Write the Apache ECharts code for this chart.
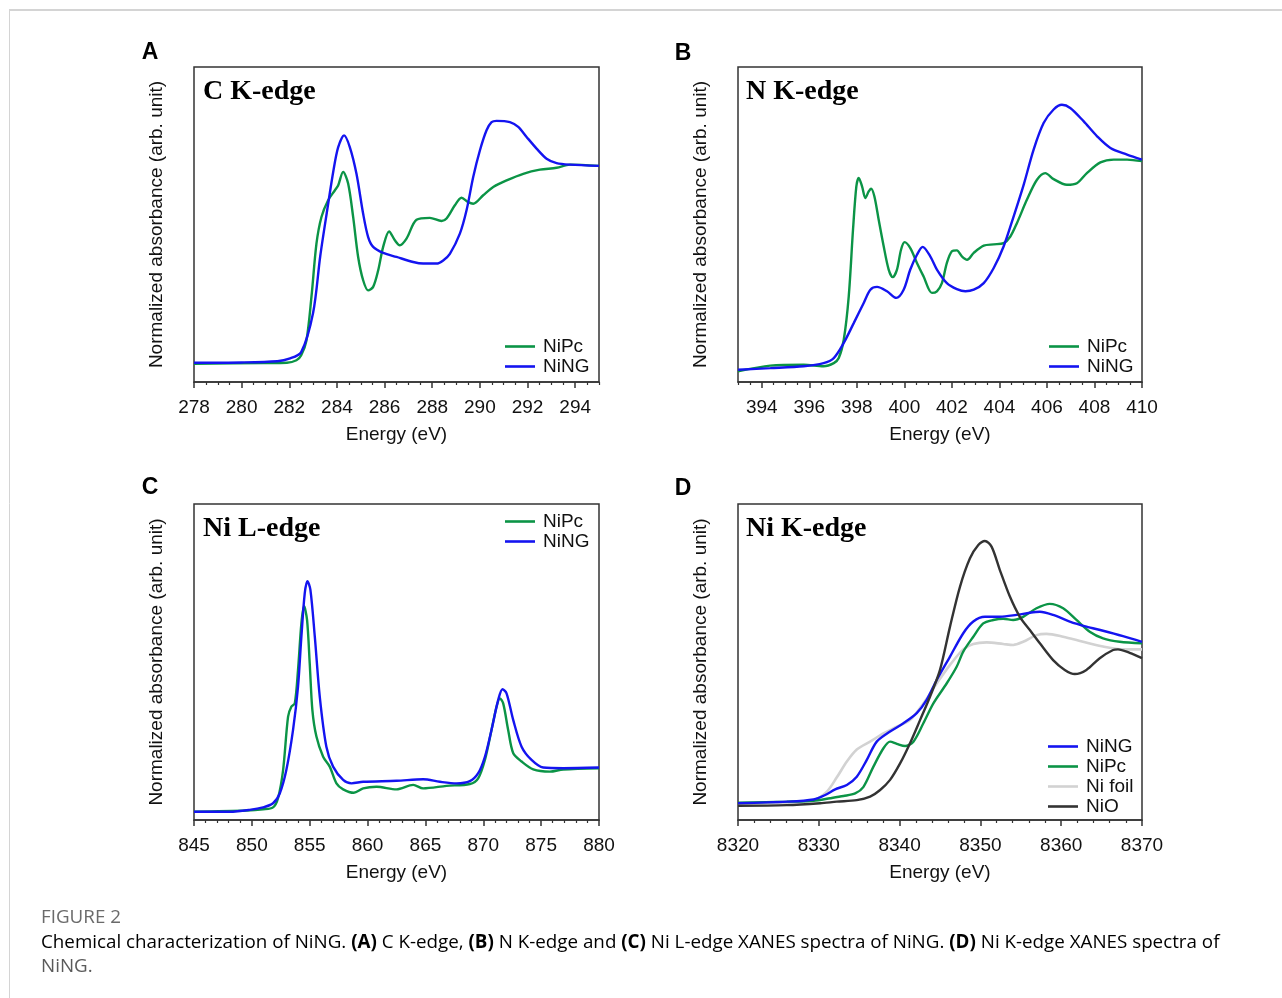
<!DOCTYPE html>
<html>
<head>
<meta charset="utf-8">
<title>Figure 2 - XANES of NiNG</title>
<script src="https://cdn.jsdelivr.net/npm/echarts@6/dist/echarts.min.js"></script>
<style>
  html, body { margin: 0; padding: 0; background: #fff; }
  #chart { width: 1282px; height: 998px; }
</style>
</head>
<body>
<div id="chart"></div>
<script>
// x tick labels of each panel
const ticksA = [278, 280, 282, 284, 286, 288, 290, 292, 294];
const ticksB = [394, 396, 398, 400, 402, 404, 406, 408, 410];
const ticksC = [845, 850, 855, 860, 865, 870, 875, 880];
const ticksD = [8320, 8330, 8340, 8350, 8360, 8370];

// (A) C K-edge  [energy eV, normalized absorbance]
const cNiPc = [[278,5.8],[280.9,6.0],[281.9,6.1],[282.3,6.9],[282.5,8.5],[282.72,13.2],[282.93,27.0],[283.14,43.9],[283.35,52.4],[283.63,57.7],[283.91,60.8],[284.05,62.4],[284.26,66.7],[284.47,63.0],[284.68,52.4],[284.89,39.7],[285.1,32.3],[285.31,29.1],[285.52,30.2],[285.73,35.4],[285.94,42.9],[286.19,47.8],[286.43,45.0],[286.64,43.4],[286.92,45.5],[287.34,51.5],[287.9,52.1],[288.39,51.1],[288.6,51.9],[288.95,56.1],[289.23,58.5],[289.51,57.1],[289.72,56.6],[290.14,59.3],[290.56,61.9],[291.12,64.0],[291.82,66.1],[292.52,67.4],[293.22,68.0],[293.78,69.0],[295,68.6]];
const cNiNG = [[278,6.1],[280,6.2],[281.5,6.6],[282,7.4],[282.5,9.5],[283.0,22.0],[283.3,40.0],[283.6,55.0],[283.85,67.0],[284.05,74.5],[284.3,78.3],[284.54,74.6],[284.82,66.1],[285.1,53.4],[285.31,46.0],[285.52,42.9],[285.94,41.0],[286.5,39.7],[287.2,38.1],[287.62,37.6],[288.18,37.6],[288.46,38.6],[288.74,40.7],[289.16,47.1],[289.44,54.5],[289.72,65.1],[290.0,73.5],[290.28,79.9],[290.49,82.5],[290.7,82.9],[291.26,82.5],[291.61,81.0],[291.96,77.8],[292.38,74.1],[292.8,70.9],[293.22,69.5],[293.78,69.0],[295,68.6]];

// (B) N K-edge
const bNiPc = [[393,3.4],[394.36,5.2],[395.76,5.5],[396.6,5.0],[397.03,6.0],[397.24,7.6],[397.45,13.4],[397.66,27.2],[397.84,48.4],[397.98,62.1],[398.08,64.8],[398.22,62.1],[398.36,58.4],[398.5,60.5],[398.6,61.4],[398.74,58.9],[398.92,51.5],[399.13,43.1],[399.34,35.7],[399.51,33.3],[399.69,35.7],[399.86,42.0],[400.01,44.4],[400.25,42.5],[400.53,37.8],[400.81,33.5],[401.16,28.3],[401.37,28.8],[401.58,31.4],[401.79,37.8],[402.0,41.5],[402.21,41.8],[402.42,39.9],[402.64,38.8],[402.92,41.0],[403.34,43.3],[403.76,43.7],[404.18,44.1],[404.46,46.2],[404.74,50.5],[405.16,57.9],[405.58,64.2],[405.93,66.3],[406.28,64.4],[406.84,62.6],[407.26,63.1],[407.68,66.3],[408.25,69.7],[408.81,70.6],[409.37,70.6],[410,70.1]];
const bNiNG = [[393,3.9],[394.36,4.4],[395.76,5.0],[396.6,6.0],[397.03,7.6],[397.45,12.4],[397.87,18.7],[398.29,25.1],[398.57,29.3],[398.85,30.2],[399.27,28.8],[399.66,26.7],[399.97,29.3],[400.25,35.7],[400.53,40.4],[400.77,42.9],[401.09,39.9],[401.37,35.7],[401.79,31.4],[402.21,29.5],[402.57,28.8],[402.92,29.3],[403.34,31.4],[403.76,36.2],[404.18,43.1],[404.6,52.6],[405.02,62.6],[405.44,73.8],[405.86,82.2],[406.28,86.5],[406.63,88.0],[406.98,87.0],[407.54,82.8],[408.11,78.0],[408.67,74.3],[409.37,72.2],[410,70.6]];

// (C) Ni L-edge
const lNiPc = [[845,2.6],[849.53,3.0],[850.97,3.4],[851.83,4.0],[852.26,6.9],[852.7,15.8],[853.13,32.7],[853.42,35.9],[853.71,36.9],[853.99,47.5],[854.28,62.2],[854.51,67.7],[854.77,63.3],[855.0,49.6],[855.23,34.8],[855.58,26.4],[856.16,20.0],[856.73,16.9],[857.31,11.6],[857.89,9.7],[858.81,8.6],[859.62,10.0],[860.77,10.5],[862.5,9.7],[863.94,11.1],[864.8,10.0],[866.82,10.8],[868.84,11.4],[869.56,13.2],[870.14,19.0],[870.71,28.5],[871.15,35.9],[871.43,38.5],[871.72,36.9],[872.15,28.5],[872.59,21.1],[873.31,18.5],[874.32,16.0],[875.76,15.3],[876.91,16.0],[880,16.4]];
const lNiNG = [[845,2.6],[848.08,2.6],[849.81,3.2],[850.97,4.0],[851.83,5.3],[852.41,8.4],[852.98,15.8],[853.56,28.5],[853.99,42.2],[854.28,58.0],[854.57,71.7],[854.8,75.6],[855.06,72.8],[855.44,58.0],[855.87,39.0],[856.44,23.2],[857.02,16.9],[857.89,12.7],[858.61,11.6],[859.62,12.1],[862.5,12.4],[864.8,12.9],[866.25,12.1],[867.69,11.6],[868.84,12.3],[869.56,14.8],[870.14,20.0],[870.71,28.5],[871.29,38.0],[871.66,41.4],[872.01,40.1],[872.59,31.6],[873.31,23.2],[874.17,19.0],[875.18,16.6],[876.91,16.4],[880,16.6]];

// (D) Ni K-edge
const kNiNG = [[8320,5.3],[8326.05,5.8],[8329.35,6.5],[8330.79,7.9],[8332.03,9.7],[8333.47,11.1],[8334.7,13.7],[8335.94,19.0],[8337.17,24.8],[8338.82,28.0],[8340.47,30.6],[8342.12,33.8],[8343.35,38.0],[8344.59,44.3],[8346.24,51.7],[8347.88,59.1],[8349.12,62.8],[8350.56,64.3],[8352.41,64.3],[8354.47,64.9],[8356.12,65.6],[8357.36,65.9],[8359.0,64.9],[8361.06,62.8],[8363.12,61.2],[8365.18,59.9],[8367.65,58.2],[8370,56.4]];
const kNiPc = [[8320,5.5],[8326.05,5.8],[8329.35,6.1],[8331.41,6.9],[8333.06,7.6],[8334.5,8.4],[8335.53,10.5],[8336.76,16.9],[8338.0,22.7],[8338.82,24.8],[8339.65,24.1],[8340.68,23.4],[8341.71,24.8],[8342.94,30.6],[8344.18,36.9],[8345.82,43.2],[8347.06,48.5],[8347.88,53.3],[8349.12,58.0],[8350.35,62.2],[8351.59,63.3],[8352.82,63.7],[8354.06,63.3],[8355.29,64.3],[8356.94,67.0],[8358.59,68.4],[8360.24,67.0],[8361.89,63.3],[8363.53,59.6],[8365.18,57.5],[8367.24,56.4],[8370,55.9]];
const kFoil = [[8320,5.3],[8326.05,5.5],[8329.35,6.3],[8331.0,9.0],[8332.23,13.5],[8333.47,18.5],[8334.7,22.3],[8336.35,24.8],[8338.0,27.4],[8339.65,29.5],[8341.29,31.6],[8342.94,36.9],[8344.59,43.2],[8346.24,49.1],[8347.88,54.0],[8349.12,55.7],[8350.77,56.2],[8352.82,55.7],[8354.06,55.4],[8355.29,56.4],[8356.94,58.5],[8358.18,58.9],[8360.24,58.0],[8362.71,56.4],[8365.18,54.9],[8367.65,54.0],[8370,54.0]];
const kNiO = [[8320,4.5],[8326.05,4.7],[8330.17,5.3],[8332.23,5.8],[8334.7,6.3],[8336.35,7.4],[8337.59,9.5],[8338.82,12.7],[8340.06,17.9],[8341.29,24.3],[8342.53,31.6],[8343.76,39.0],[8345.0,47.5],[8346.24,61.2],[8347.47,73.8],[8348.71,82.8],[8349.74,87.0],[8350.56,88.3],[8351.38,86.5],[8352.41,79.1],[8353.65,70.7],[8354.88,64.3],[8356.12,60.1],[8357.36,55.9],[8359.0,50.6],[8360.44,47.5],[8361.68,46.2],[8363.12,47.5],[8364.77,51.2],[8366.42,53.8],[8367.03,54.0],[8368.47,52.9],[8370,51.2]];

const GREEN = '#0b9446';
const BLUE = '#1414f0';
const FOIL = '#d2d2d2';
const DARK = '#333333';
const AXIS = '#333';
const SANS = '"Liberation Sans", Arial, sans-serif';
const SERIF = '"Liberation Serif", "Times New Roman", serif';
const CAP = '"Open Sans", "Noto Sans", sans-serif';

const panels = [
  { left: 194, top: 67, width: 405, height: 315, min: 278, max: 295, major: ticksA, minorStep: 0.5 },
  { left: 738, top: 67, width: 404, height: 315, min: 393, max: 410, major: ticksB, minorStep: 0.5 },
  { left: 194, top: 504, width: 405, height: 316, min: 845, max: 880, major: ticksC, minorStep: 1 },
  { left: 738, top: 504, width: 404, height: 316, min: 8320, max: 8370, major: ticksD, minorStep: 2 }
];

// minor ticks = every minorStep that is not a major tick
const minorTicks = (p) => {
  const out = [];
  const n = Math.round((p.max - p.min) / p.minorStep);
  for (let i = 0; i <= n; i++) {
    const v = +(p.min + i * p.minorStep).toFixed(3);
    if (p.major.indexOf(v) < 0) out.push(v);
  }
  return out;
};

const grid = [], xAxis = [], yAxis = [];
panels.forEach((p, i) => {
  grid.push({
    left: p.left, top: p.top, width: p.width, height: p.height,
    show: true, borderColor: AXIS, borderWidth: 1.5, backgroundColor: 'transparent'
  });
  xAxis.push({
    type: 'value', gridIndex: i, min: p.min, max: p.max, position: 'bottom',
    axisLine: { show: true, onZero: false, lineStyle: { color: AXIS, width: 1.5 } },
    axisTick: { show: true, customValues: p.major, length: 6, lineStyle: { color: AXIS, width: 1.5 } },
    axisLabel: {
      customValues: p.major, fontSize: 19, color: '#111', margin: 16, fontFamily: SANS,
      formatter: (v) => String(v)
    },
    splitLine: { show: false },
    name: 'Energy (eV)', nameLocation: 'middle', nameGap: 43,
    nameTextStyle: { fontSize: 19, color: '#111', fontFamily: SANS }
  });
  xAxis.push({
    type: 'value', gridIndex: i, min: p.min, max: p.max, position: 'bottom', offset: 0,
    axisLine: { show: false, onZero: false },
    axisTick: { show: true, customValues: minorTicks(p), length: 3, lineStyle: { color: AXIS, width: 1.2 } },
    axisLabel: { show: false },
    splitLine: { show: false }
  });
  yAxis.push({
    type: 'value', gridIndex: i, min: 0, max: 100,
    axisLine: { show: false }, axisTick: { show: false }, axisLabel: { show: false },
    splitLine: { show: false },
    name: 'Normalized absorbance (arb. unit)', nameLocation: 'middle', nameGap: 28, nameRotate: 90,
    nameTextStyle: { fontSize: 19, color: '#111', fontFamily: SANS }
  });
});

const line = (name, data, panel, color, width) => ({
  type: 'line', name: name, data: data,
  xAxisIndex: panel * 2, yAxisIndex: panel,
  symbol: 'none', showSymbol: false, smooth: 0.3,
  lineStyle: { color: color, width: width || 2.4 },
  itemStyle: { color: color },
  silent: true
});

const series = [
  line('NiPc', cNiPc, 0, GREEN), line('NiNG', cNiNG, 0, BLUE),
  line('NiPc', bNiPc, 1, GREEN), line('NiNG', bNiNG, 1, BLUE),
  line('NiPc', lNiPc, 2, GREEN), line('NiNG', lNiNG, 2, BLUE),
  line('Ni foil', kFoil, 3, FOIL, 2.6), line('NiPc', kNiPc, 3, GREEN),
  line('NiNG', kNiNG, 3, BLUE), line('NiO', kNiO, 3, DARK)
];

// flat bar icon so the key shows only a short line, as in the figure
const legendBase = {
  orient: 'vertical', icon: 'rect', itemWidth: 30, itemHeight: 2.6, itemGap: 1, padding: 0,
  selectedMode: false,
  textStyle: { fontSize: 19, lineHeight: 17, color: '#111', fontFamily: SANS, padding: [0, 0, 0, 3] }
};
const legend = [
  Object.assign({}, legendBase, { left: 505, top: 337, data: ['NiPc', 'NiNG'] }),
  Object.assign({}, legendBase, { left: 1049, top: 337, data: ['NiPc', 'NiNG'] }),
  Object.assign({}, legendBase, { left: 505, top: 512, data: ['NiPc', 'NiNG'] }),
  Object.assign({}, legendBase, { left: 1048, top: 737, data: ['NiNG', 'NiPc', 'Ni foil', 'NiO'] })
];

// panel letters and edge titles
const letter = (t, x, y) => ({
  type: 'text', x: x, y: y,
  style: { text: t, font: 'bold 23px ' + SANS, fill: '#000', align: 'center', verticalAlign: 'middle' }
});
const edge = (t, x, y) => ({
  type: 'text', x: x, y: y,
  style: { text: t, font: 'bold 28px ' + SERIF, fill: '#000', align: 'left', verticalAlign: 'middle' }
});

const graphic = [
  { type: 'line', shape: { x1: 9, y1: 10, x2: 1282, y2: 10 }, style: { stroke: '#d4d4d4', lineWidth: 2 } },
  { type: 'line', shape: { x1: 9.5, y1: 9, x2: 9.5, y2: 998 }, style: { stroke: '#d4d4d4', lineWidth: 1 } },
  letter('A', 150, 53), letter('B', 683, 54), letter('C', 150, 488), letter('D', 683, 489),
  edge('C K-edge', 203, 92), edge('N K-edge', 746, 92), edge('Ni L-edge', 203, 529), edge('Ni K-edge', 746, 529),
  {
    type: 'text', x: 41, y: 918,
    style: { text: 'FIGURE 2', font: '18.8px ' + CAP, fill: '#6a6a6a', verticalAlign: 'middle' }
  },
  {
    type: 'text', x: 41, y: 943,
    style: {
      text: '{n|Chemical characterization of NiNG. }{b|(A)}{n| C K-edge, }{b|(B)}{n| N K-edge and }{b|(C)}{n| Ni L-edge XANES spectra of NiNG. }{b|(D)}{n| Ni K-edge XANES spectra of}',
      verticalAlign: 'middle',
      rich: {
        n: { fontSize: 18.8, fontFamily: CAP, color: '#5a5a5a' },
        b: { fontSize: 18.8, fontFamily: CAP, color: '#5a5a5a', fontWeight: 'bold' }
      }
    }
  },
  {
    type: 'text', x: 41, y: 967,
    style: { text: 'NiNG.', font: '18.8px ' + CAP, fill: '#5a5a5a', verticalAlign: 'middle' }
  }
];

const chart = echarts.init(document.getElementById('chart'));
chart.setOption({
  animation: false,
  backgroundColor: '#fff',
  grid: grid,
  xAxis: xAxis,
  yAxis: yAxis,
  legend: legend,
  series: series,
  graphic: graphic
});
</script>
</body>
</html>
